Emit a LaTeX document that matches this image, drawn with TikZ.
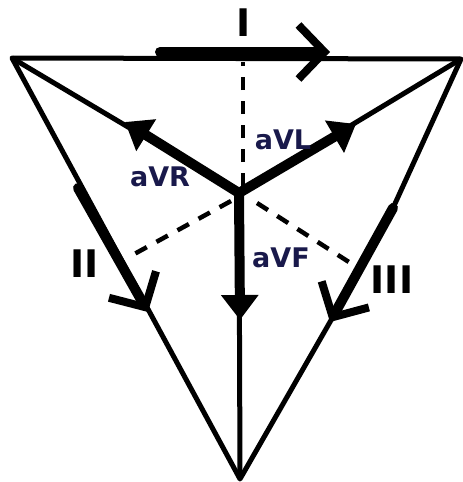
\documentclass[tikz,border=0pt]{standalone}
\usepackage{fontspec}
\setmainfont{DejaVu Sans}
\usetikzlibrary{arrows.meta}
\definecolor{labelblue}{RGB}{25,25,75}
\begin{document}
\begin{tikzpicture}[x=1pt,y=-1pt,
    side/.style={line width=5pt, line join=round},
    axis/.style={line width=4.5pt, dash pattern=on 13pt off 11pt},
    vect/.style={line width=10pt, -{Triangle[length=25pt,width=36pt]}},
    lead/.style={line width=10pt, line cap=round, -{Straight Barb[length=26pt,width=54pt,line width=8pt]}},
    avlabel/.style={inner sep=0pt, font=\bfseries\fontsize{27}{27}\selectfont, text=labelblue},
    leadlabel/.style={inner sep=0pt, font=\bfseries\fontsize{38}{38}\selectfont}]
    \useasboundingbox (0,0) rectangle (463,482);
    % corners of the triangle and its centre
    \coordinate (tl) at (12,58);
    \coordinate (tr) at (461,59);
    \coordinate (bt) at (240,479);
    \coordinate (ctr) at (239,193);
    % leads along the sides
    \coordinate (leadIa) at (160,52);
    \coordinate (leadIb) at (330,52);
    \coordinate (leadIIa) at (78,188);
    \coordinate (leadIIb) at (148,312);
    \coordinate (leadIIIa) at (393,208);
    \coordinate (leadIIIb) at (330,322);
    % triangle and the lines to the centre
    \draw[side] (tl) -- (tr) -- (leadIIIa) -- (leadIIIb) -- (bt) -- cycle;
    \draw[side] (tl) -- (ctr) -- (tr);
    \draw[side] (ctr) -- (bt);
    % lead axes
    \coordinate (axItop) at (243,62);
    \coordinate (axIbot) at (243,186);
    \coordinate (axIIfoot) at (127,258);
    \coordinate (axIIIfoot) at (352,264);
    \draw[axis] (axIbot) -- (axItop);
    \draw[axis] ([shift={(-8,8)}]ctr) -- (axIIfoot);
    \draw[axis] ([shift={(18,10)}]ctr) -- (axIIIfoot);
    % augmented vectors
    \coordinate (aVRtip) at (125,122);
    \coordinate (aVLtip) at (356,124);
    \coordinate (aVFtip) at (240,320);
    \draw[vect] (ctr) -- (aVRtip);
    \draw[vect] (ctr) -- (aVLtip);
    \draw[vect] (ctr) -- (aVFtip);
    \draw[lead] (leadIa) -- (leadIb);
    \draw[lead] (leadIIa) -- (leadIIb);
    \draw[lead] (leadIIIa) -- (leadIIIb);
    % labels
    \node[leadlabel] (labI) at (244,23) {I};
    \node[leadlabel] (labII) at (85,264) {II};
    \node[leadlabel] (labIII) at (392,280) {III};
    \node[avlabel] (labaVR) at (160,177) {aVR};
    \node[avlabel] (labaVL) at (283,140) {aVL};
    \node[avlabel] (labaVF) at (281,258) {aVF};
\end{tikzpicture}
\end{document}
